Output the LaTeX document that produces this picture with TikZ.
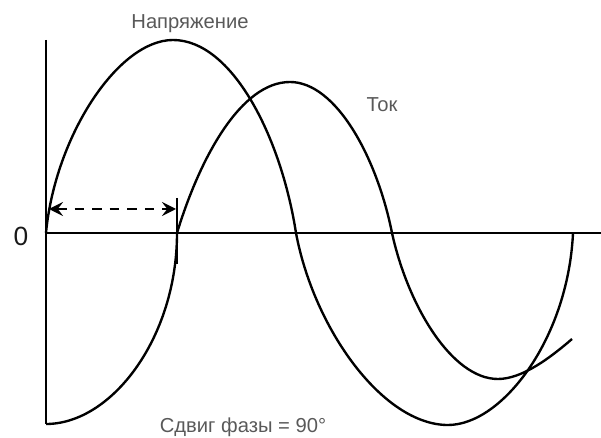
\documentclass[tikz,border=0pt]{standalone}
\usepackage{fontspec}
\setsansfont{Liberation Sans}
\usetikzlibrary{arrows.meta, positioning}

\begin{document}
\begin{tikzpicture}[
    x=0.02cm, y=-0.02cm,
    font=\sffamily,
    % Lines
    axis/.style={draw=black, line width=1.35pt},
    wave/.style={draw=black, line width=1.35pt, line join=round},
    phase_mark/.style={draw=black, line width=1.35pt},
    shift_arrow/.style={draw=black, line width=1.35pt, dash pattern=on 5.5pt off 4.5pt, {Stealth[length=8pt, width=8pt, inset=3pt]}-{Stealth[length=8pt, width=8pt, inset=3pt]}},
    % Labels
    caption/.style={text=black!65, font=\sffamily\fontsize{11.5}{13}\selectfont},
    zero_label/.style={text=black!90, font=\sffamily\fontsize{15}{17}\selectfont},
]
\useasboundingbox (0,0) rectangle (601,438);

% 1. Axes
\coordinate (y_top) at (46,40);
\coordinate (y_bot) at (46,424);
\coordinate (origin) at (46,233);
\coordinate (x_end) at (601,233);
\draw[axis] (y_top) -- (y_bot);
\draw[axis] (origin) -- (x_end);
\node[zero_label] (zero) at (21,236) {0};

% 2. Voltage wave
\draw[wave] (origin)
    .. controls (55,136.5) and (118,40) .. (173,40)
    .. controls (232,40) and (281,136.5) .. (296,233)
    .. controls (314,329) and (383,425) .. (448,425)
    .. controls (502,425) and (568,339) .. (573,233);
\node[caption] (voltage) at (190,24) {Напряжение};

% 3. Current wave
\draw[wave] (y_bot)
    .. controls (111.5,424) and (177,338) .. (177,233)
    .. controls (200,157.5) and (241,82) .. (290,82)
    .. controls (336,82) and (377,157.5) .. (392,233)
    .. controls (408,306) and (452,379) .. (498,379)
    .. controls (522,379) and (550,358) .. (572,339);
\node[caption] (current) at (382,105) {Ток};

% 4. Phase shift
\coordinate (mark_top) at (177,198);
\coordinate (mark_bot) at (177,264);
\draw[phase_mark] (mark_top) -- (mark_bot);
\coordinate (shift_start) at (49,209);
\coordinate (shift_end) at (176,209);
\draw[shift_arrow] (shift_start) -- (shift_end);
\node[caption] (shift) at (243,427) {Сдвиг фазы = 90°};

\end{tikzpicture}
\end{document}
